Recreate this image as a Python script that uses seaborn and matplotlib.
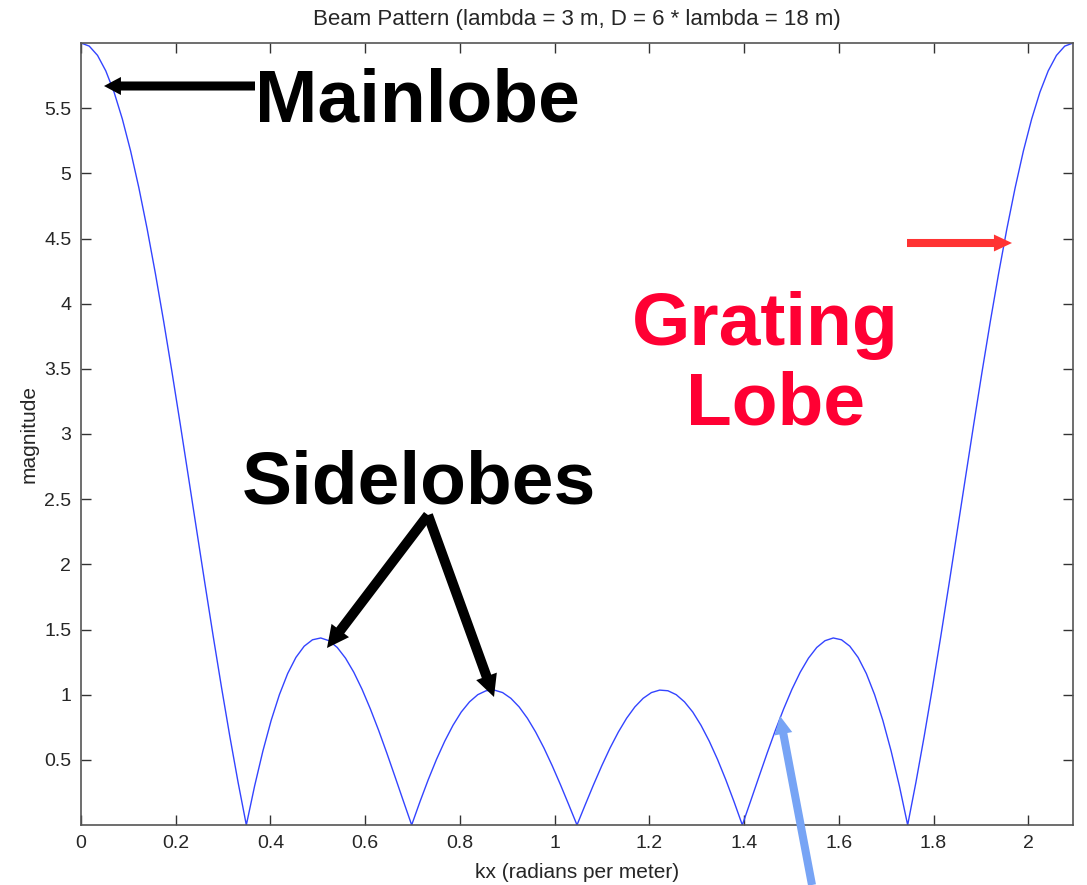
import matplotlib
matplotlib.use("Agg")
import matplotlib.pyplot as plt
import numpy as np
import seaborn as sns

# beam pattern magnitude, kx from 0 to 2*pi/3 rad/m
magnitude = [
    6.000, 5.976, 5.905, 5.786, 5.623, 5.417, 5.172, 4.889, 4.574, 4.231,
    3.864, 3.478, 3.078, 2.669, 2.258, 1.848, 1.445, 1.055, 0.681, 0.328,
    0.000, 0.299, 0.567, 0.802, 1.000, 1.162, 1.286, 1.372, 1.421, 1.435,
    1.414, 1.362, 1.280, 1.172, 1.041, 0.891, 0.727, 0.551, 0.368, 0.183,
    0.000, 0.178, 0.347, 0.503, 0.643, 0.765, 0.867, 0.945, 1.000, 1.030,
    1.035, 1.016, 0.972, 0.906, 0.819, 0.713, 0.591, 0.455, 0.309, 0.156,
    0.000,
    0.156, 0.309, 0.455, 0.591, 0.713, 0.819, 0.906, 0.972, 1.016, 1.035,
    1.030, 1.000, 0.945, 0.867, 0.765, 0.643, 0.503, 0.347, 0.178, 0.000,
    0.183, 0.368, 0.551, 0.727, 0.891, 1.041, 1.172, 1.280, 1.362, 1.414,
    1.435, 1.421, 1.372, 1.286, 1.162, 1.000, 0.802, 0.567, 0.299, 0.000,
    0.328, 0.681, 1.055, 1.445, 1.848, 2.258, 2.669, 3.078, 3.478, 3.864,
    4.231, 4.574, 4.889, 5.172, 5.417, 5.623, 5.786, 5.905, 5.976, 6.000,
]
kx_max = 2.0944
kx = np.linspace(0, kx_max, len(magnitude))

x_ticks = [0, 0.2, 0.4, 0.6, 0.8, 1, 1.2, 1.4, 1.6, 1.8, 2]
x_tick_labels = ["0", "0.2", "0.4", "0.6", "0.8", "1", "1.2", "1.4", "1.6", "1.8", "2"]
y_ticks = [0.5, 1, 1.5, 2, 2.5, 3, 3.5, 4, 4.5, 5, 5.5]
y_tick_labels = ["0.5", "1", "1.5", "2", "2.5", "3", "3.5", "4", "4.5", "5", "5.5"]

sns.set_style("ticks")
plt.rcParams["font.family"] = ["Liberation Sans", "DejaVu Sans"]

W, H = 1087, 885
fig = plt.figure(figsize=(W / 100, H / 100), dpi=100)
ax = fig.add_axes([81 / W, 1 - 825 / H, (1073 - 81) / W, (825 - 43) / H])

sns.lineplot(x=kx, y=magnitude, ax=ax, color="#3344ff", linewidth=1.0)

ax.set_xlim(0, kx_max)
ax.set_ylim(0, 6)
ax.set_xticks(x_ticks)
ax.set_xticklabels(x_tick_labels)
ax.set_yticks(y_ticks)
ax.set_yticklabels(y_tick_labels)
ax.tick_params(direction="in", length=7, width=1, top=True, right=True,
               labelsize=14, color="#333333")
ax.tick_params(axis="y", pad=7)
ax.tick_params(axis="x", pad=7)
for s in ax.spines.values():
    s.set_color("#555555")
    s.set_linewidth(1.2)

ax.set_title("Beam Pattern (lambda = 3 m, D = 6 * lambda = 18 m)", fontsize=16, pad=13)
ax.set_xlabel("kx (radians per meter)", fontsize=15, labelpad=8)
ax.set_ylabel("magnitude", fontsize=15, labelpad=4)


def fp(x, y):
    return (x / W, 1 - y / H)


def arrow(tail, tip, color, shaft, head_w, head_l):
    # widths in pixels -> points
    k = 72 / 100
    style = "simple,head_length=%.2f,head_width=%.2f,tail_width=%.2f" % (
        head_l * k / 10, head_w * k / 10, shaft * k / 10)
    ax.annotate("", xy=fp(*tip), xytext=fp(*tail), xycoords="figure fraction",
                textcoords="figure fraction",
                arrowprops=dict(arrowstyle=style, color=color, mutation_scale=10,
                                shrinkA=0, shrinkB=0, lw=0),
                annotation_clip=False)


big = dict(fontsize=54, fontweight="bold", va="baseline")
fig.text(*fp(255, 122), "Mainlobe", color="black", ha="left", **big)
fig.text(*fp(242, 504), "Sidelobes", color="black", ha="left", **big)
fig.text(*fp(765, 345), "Grating", color="#ff0033", ha="center", **big)
fig.text(*fp(776, 424), "Lobe", color="#ff0033", ha="center", **big)

arrow((255, 86), (104, 86), "black", 9, 18, 17)
arrow((428, 515), (327, 648), "black", 10, 22, 22)
arrow((428, 515), (494, 697), "black", 10, 22, 22)
arrow((907, 243), (1012, 243), "#ff3333", 8, 17, 18)
arrow((812, 885), (780, 716), "#77a4f5", 8, 18, 18)

fig.savefig("out.png", dpi=100)
plt.close(fig)
